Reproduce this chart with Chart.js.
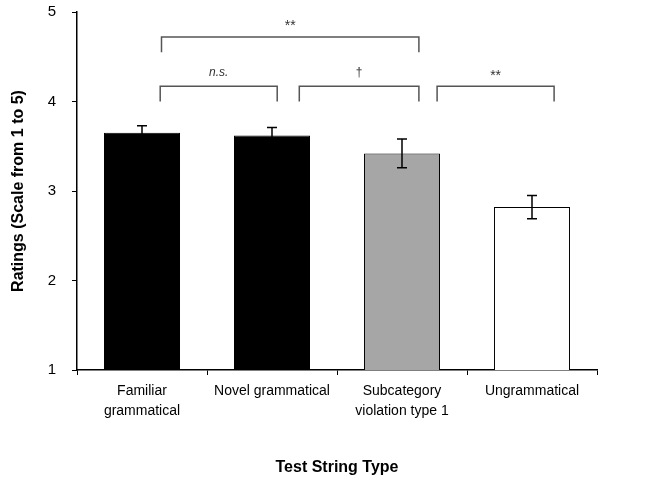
<!DOCTYPE html>
<html>
<head>
<meta charset="utf-8">
<script src="https://cdn.jsdelivr.net/npm/chart.js@4/dist/chart.umd.min.js"></script>
<style>
  body { margin: 0; background: #fff; }
</style>
</head>
<body>
<canvas id="ratings" width="645" height="485"></canvas>
<script>
const categories = [['Familiar', 'grammatical'], 'Novel grammatical', ['Subcategory', 'violation type 1'], 'Ungrammatical'];
const means = [3.65, 3.62, 3.42, 2.82];
const errors = [0.08, 0.09, 0.16, 0.13];
const barColors = ['#000000', '#000000', '#a6a6a6', '#ffffff'];
const yTicks = [1, 2, 3, 4, 5];

// significance brackets: category positions (fractional index) and rating levels
const brackets = [
  { from: 0.14, to: 1.04, base: 4.0, top: 4.17, label: 'n.s.', italic: true, size: 12, textAt: 4.28 },
  { from: 1.21, to: 2.13, base: 4.0, top: 4.17, label: '\u2020', italic: false, size: 12, textAt: 4.28 },
  { from: 2.27, to: 3.17, base: 4.0, top: 4.17, label: '**', italic: false, size: 14, textAt: 4.24 },
  { from: 0.15, to: 2.13, base: 4.55, top: 4.72, label: '**', italic: false, size: 14, textAt: 4.80 }
];

const fontFamily = 'Arial, "Liberation Sans", Helvetica, sans-serif';

const annotations = {
  id: 'annotations',
  afterDatasetsDraw(chart) {
    const ctx = chart.ctx;
    const x = chart.scales.x;
    const y = chart.scales.y;
    ctx.save();
    // error bars
    ctx.strokeStyle = '#000';
    ctx.lineWidth = 1.5;
    means.forEach((m, i) => {
      const cx = x.getPixelForValue(i);
      const hi = y.getPixelForValue(m + errors[i]);
      const lo = y.getPixelForValue(m - errors[i]);
      ctx.beginPath();
      ctx.moveTo(cx, hi); ctx.lineTo(cx, lo);
      ctx.moveTo(cx - 5, hi); ctx.lineTo(cx + 5, hi);
      ctx.moveTo(cx - 5, lo); ctx.lineTo(cx + 5, lo);
      ctx.stroke();
    });
    // brackets
    ctx.strokeStyle = '#555';
    ctx.lineWidth = 1.5;
    ctx.fillStyle = '#333';
    ctx.textAlign = 'center';
    ctx.textBaseline = 'alphabetic';
    brackets.forEach(b => {
      const x1 = x.getPixelForValue(b.from);
      const x2 = x.getPixelForValue(b.to);
      const yb = y.getPixelForValue(b.base);
      const yt = y.getPixelForValue(b.top);
      ctx.beginPath();
      ctx.moveTo(x1, yb); ctx.lineTo(x1, yt); ctx.lineTo(x2, yt); ctx.lineTo(x2, yb);
      ctx.stroke();
      ctx.font = (b.italic ? 'italic ' : '') + b.size + 'px ' + fontFamily;
      ctx.fillText(b.label, (x1 + x2) / 2, y.getPixelForValue(b.textAt));
    });
    ctx.restore();
  }
};

new Chart(document.getElementById('ratings').getContext('2d'), {
  type: 'bar',
  data: {
    labels: categories,
    datasets: [{
      data: means,
      backgroundColor: barColors,
      borderColor: '#000',
      borderWidth: 1,
      categoryPercentage: 1,
      barPercentage: 0.585
    }]
  },
  options: {
    responsive: false,
    animation: false,
    layout: { padding: { top: 0, right: 48, left: 0, bottom: 0 } },
    plugins: {
      legend: { display: false },
      tooltip: { enabled: false }
    },
    scales: {
      x: {
        grid: { display: true, drawOnChartArea: false, drawTicks: true, tickLength: 5, color: '#000', lineWidth: 1 },
        border: { color: '#000', width: 1.5 },
        ticks: { color: '#000', font: { family: fontFamily, size: 14, lineHeight: 1.43 }, padding: 6, maxRotation: 0, autoSkip: false },
        title: { display: true, text: 'Test String Type', color: '#000', font: { family: fontFamily, size: 16, weight: 'bold' }, padding: { top: 0, bottom: 8 } },
        afterFit(scale) { scale.height = 115; }
      },
      y: {
        min: 1,
        max: 5,
        afterBuildTicks(scale) { scale.ticks = yTicks.map(v => ({ value: v })); },
        grid: { display: true, drawOnChartArea: false, drawTicks: true, tickLength: 5, color: '#000', lineWidth: 1 },
        border: { color: '#000', width: 1.5 },
        ticks: { color: '#000', font: { family: fontFamily, size: 15 }, padding: 16 },
        title: { display: true, text: 'Ratings (Scale from 1 to 5)', color: '#000', font: { family: fontFamily, size: 16, weight: 'bold' }, padding: { top: 9, bottom: 0 } },
        afterFit(scale) { scale.width = 77; scale.paddingTop = 12; scale.paddingBottom = 12; }
      }
    }
  },
  plugins: [annotations]
});
</script>
</body>
</html>
